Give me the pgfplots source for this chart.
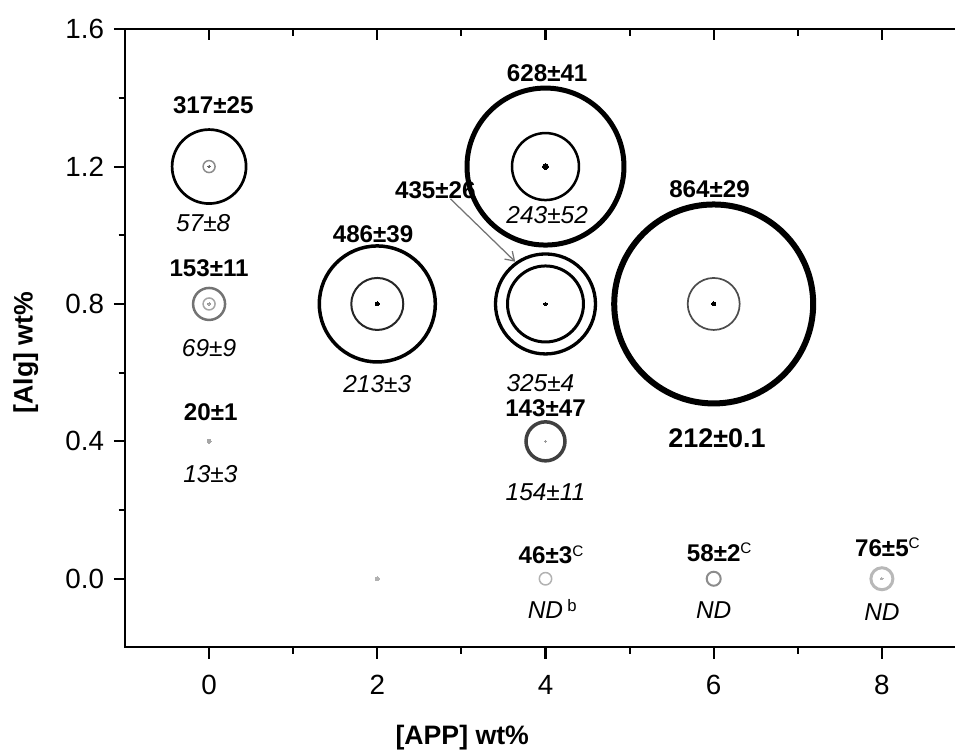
\documentclass[border=0pt]{standalone}
\usepackage{pgfplots}
\pgfplotsset{compat=1.18}
\usepackage{fontspec}
\setmainfont{Liberation Sans}
\usetikzlibrary{arrows.meta}

% ring: x, y, radius (px), line width (px), blackness (%)
\newcommand{\ring}[5]{\addplot[only marks, mark=o, mark size=#3*0.36pt, mark options={line width=#4*0.36pt, draw=black!#5}] coordinates {(#1,#2)};}
% centre dot: x, y, radius (px), blackness (%)
\newcommand{\cdotm}[4]{\addplot[only marks, mark=*, mark size=#3*0.36pt, mark options={line width=0pt, draw=black!#4, fill=black!#4}] coordinates {(#1,#2)};}

\tikzset{
  bl/.style={font=\fontsize{8.7}{10}\selectfont\bfseries, inner sep=0pt},
  it/.style={font=\fontsize{8.8}{10}\selectfont\itshape, inner sep=0pt},
}
\newcommand{\sups}[1]{\rlap{\raisebox{2.8pt}{\fontsize{5.5}{6}\selectfont\mdseries\upshape #1}}}

\begin{document}
\begin{tikzpicture}
\pgfplotsset{commonax/.style={
  scale only axis, width=302.8pt, height=222.6pt,
  xmin=-1, xmax=9, ymin=-0.2, ymax=1.6,
  xtick={0,2,4,6,8}, ytick={0,0.4,0.8,1.2,1.6},
  minor x tick num=1, minor y tick num=1,
  major tick length=4pt, minor tick length=2.3pt,
  axis line style={line width=0.75pt},
  tick style={line width=0.75pt, black},
}}
\begin{axis}[commonax, tick align=outside, tick pos=left, clip=false,
  /pgf/number format/assume math mode=true,
  tick label style={font=\fontsize{10}{12}\selectfont},
  y tick label style={/pgf/number format/fixed, /pgf/number format/fixed zerofill, /pgf/number format/precision=1},
  x tick label style={yshift=-2.5pt},
]
\ring{0}{1.2}{37}{2.7}{100}
\ring{0}{1.2}{6}{1.5}{45}
\ring{0}{0.8}{16}{2.5}{55}
\ring{0}{0.8}{6}{1.5}{35}
\ring{2}{0.8}{58}{3.5}{100}
\ring{2}{0.8}{26}{2}{85}
\ring{4}{1.2}{78.5}{5}{100}
\ring{4}{1.2}{33.5}{2.5}{100}
\ring{4}{0.8}{50}{3.3}{100}
\ring{4}{0.8}{38}{3}{100}
\ring{4}{0.4}{19.5}{3.5}{75}
\ring{6}{0.8}{99.5}{6}{100}
\ring{6}{0.8}{26}{1.7}{70}
\ring{4}{0}{6.2}{1.5}{30}
\ring{6}{0}{7}{2}{45}
\ring{8}{0}{11}{3}{28}
\cdotm{0}{1.2}{1.3}{60}
\cdotm{0}{0.8}{1.2}{40}
\cdotm{0}{0.4}{2}{35}
\cdotm{2}{0.8}{2}{100}
\cdotm{4}{1.2}{3}{100}
\cdotm{4}{0.8}{1.8}{100}
\cdotm{4}{0.4}{1}{40}
\cdotm{6}{0.8}{2}{100}
\cdotm{2}{0}{2}{30}
\cdotm{8}{0}{1.2}{30}

\node[bl] at (axis cs:0.05,1.38) {317±25};
\node[it] at (axis cs:-0.07,1.035) {57±8};
\node[bl] at (axis cs:0.0,0.905) {153±11};
\node[it] at (axis cs:0.0,0.672) {69±9};
\node[bl] at (axis cs:0.02,0.486) {20±1};
\node[it] at (axis cs:0.015,0.306) {13±3};
\node[bl] at (axis cs:1.95,1.004) {486±39};
\node[it] at (axis cs:2.0,0.566) {213±3};
\node[bl] at (axis cs:4.02,1.472) {628±41};
\node[it] at (axis cs:4.02,1.06) {243±52};
\node[bl] at (axis cs:2.69,1.132) {435±26};
\node[it] at (axis cs:3.94,0.571) {325±4};
\node[bl] at (axis cs:4.0,0.496) {143±47};
\node[it] at (axis cs:4.0,0.252) {154±11};
\node[bl] at (axis cs:5.95,1.134) {864±29};
\node[font=\fontsize{9.7}{11}\selectfont\bfseries, inner sep=0pt] at (axis cs:6.04,0.41) {212±0.1};
\node[bl] at (axis cs:4.0,0.07) {46±3\sups{C}};
\node[it] at (axis cs:4.0,-0.087) {ND\rlap{\hspace{1.5pt}\raisebox{2.5pt}{\fontsize{6}{7}\selectfont\upshape b}}};
\node[bl] at (axis cs:6.0,0.076) {58±2\sups{C}};
\node[it] at (axis cs:6.0,-0.09) {ND};
\node[bl] at (axis cs:8.0,0.092) {76±5\sups{C}};
\node[it] at (axis cs:8.0,-0.096) {ND};
\draw[black!55, line width=0.45pt, -{Straight Barb[length=3pt,width=4pt]}] (axis cs:2.87,1.106) -- (axis cs:3.64,0.923);

\node[font=\fontsize{9.6}{11}\selectfont\bfseries] at (axis cs:3.01,-0.463) {[APP] wt\%};
\node[font=\fontsize{9.6}{11}\selectfont\bfseries, rotate=90] at (axis cs:-2.18,0.658) {[Alg] wt\%};
\end{axis}
\begin{axis}[commonax, tick align=inside, tick pos=right, xticklabels={}, yticklabels={}, axis line style={draw=none}]
\end{axis}
\pgfresetboundingbox
\path ([shift={(-45pt,-37.9pt)}]current axis.south west) rectangle ([shift={(-3.96pt,10.5pt)}]current axis.north east);
\end{tikzpicture}
\end{document}
